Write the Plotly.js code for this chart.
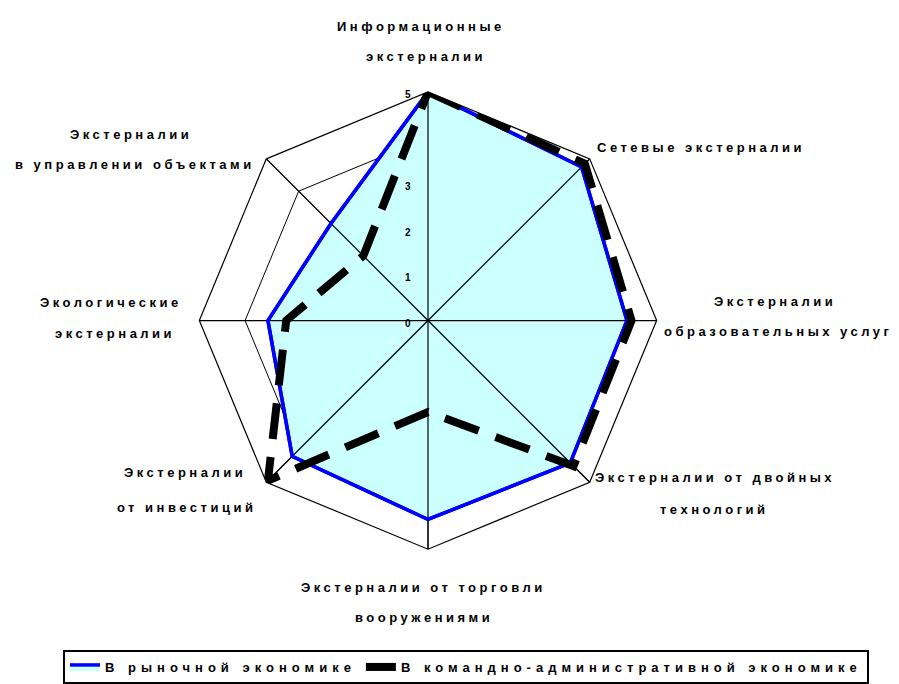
<!DOCTYPE html>
<html><head><meta charset="utf-8">
<script src="https://cdn.plot.ly/plotly-3.0.1.min.js"></script>
<style>html,body{margin:0;padding:0;background:#fff}</style>
</head><body><div id="chart" style="width:899px;height:684px"></div>
<script>
// ---- data ----
const categories = [
  "Информационные<br>экстерналии",
  "Сетевые экстерналии",
  "Экстерналии<br>образовательных услуг",
  "Экстерналии от двойных<br>технологий",
  "Экстерналии от торговли<br>вооружениями",
  "Экстерналии<br>от инвестиций",
  "Экологические<br>экстерналии",
  "Экстерналии<br>в управлении объектами"
];
const marketValues  = [5, 4.75, 4.35, 4.4, 4.35, 4.2, 3.5, 3.0];
const commandValues = [5, 4.85, 4.45, 4.5, 2.0, 4.95, 3.1, 2.0];
const seriesNames = ["В рыночной экономике", "В командно-административной экономике"];
const radialTicks = [0, 1, 2, 3, 4, 5];

// ---- layout helpers ----
const W = 899, H = 684;
const RMAX = radialTicks[radialTicks.length - 1];
const close = a => a.concat([a[0]]);
const theta = close(categories);
const sp = (t, ls) => '<span style="letter-spacing:' + ls + 'px">' + t + '</span>';
const R = 229, CX = 428, CY = 321;

// label placement (pixel centres of each text line)
const labelPos = [
  [[421, 27], [426, 57]],
  [[701, 148]],
  [[775, 302], [778, 332]],
  [[715, 478], [714, 510]],
  [[423, 588], [424, 618]],
  [[185, 473], [186, 508]],
  [[111, 303], [115, 334]],
  [[131, 135], [135, 165]]
];

const annotations = [];
categories.forEach((c, i) => {
  const lines = c.split("<br>");
  lines.forEach((ln, j) => {
    const p = labelPos[i][j];
    annotations.push({
      text: sp(ln, 3.5), xref: "paper", yref: "paper",
      x: p[0] / W, y: 1 - p[1] / H, xanchor: "center", yanchor: "middle",
      showarrow: false,
      font: {family: "Liberation Sans, Arial, sans-serif", size: 13, color: "#000", weight: "bold"}
    });
  });
});
// upright radial tick labels beside the vertical axis
radialTicks.forEach(v => {
  annotations.push({
    text: String(v), xref: "paper", yref: "paper",
    x: (CX - 20) / W, y: 1 - (CY + 3 - v * R / RMAX) / H,
    xanchor: "center", yanchor: "middle", showarrow: false,
    font: {family: "Liberation Sans, Arial, sans-serif", size: 10, color: "#000", weight: "bold"}
  });
});

// spokes over the fill
const spokeR = [], spokeT = [];
categories.forEach(c => { spokeR.push(0, RMAX, null); spokeT.push(c, c, null); });

const traces = [
  {
    type: "scatterpolar", r: close(marketValues), theta: theta, name: sp(seriesNames[0], 5),
    mode: "lines", fill: "toself", fillcolor: "#ccffff",
    line: {color: "#0000ff", width: 3.5}, showlegend: true, hoverinfo: "skip"
  },
  {
    type: "scatterpolar", r: spokeR, theta: spokeT, mode: "lines",
    line: {color: "#000", width: 1.2}, showlegend: false, hoverinfo: "skip", connectgaps: false
  },
  {
    type: "scatterpolar", r: close(marketValues), theta: theta, mode: "lines",
    line: {color: "#0000ff", width: 3.5}, showlegend: false, hoverinfo: "skip"
  },
  {
    type: "scatterpolar", r: close(commandValues), theta: theta, name: sp(seriesNames[1], 5),
    mode: "lines", line: {color: "#000", width: 8, dash: "36px,18px"},
    showlegend: true, hoverinfo: "skip"
  }
];

const layout = {
  width: W, height: H,
  margin: {l: 0, r: 0, t: 0, b: 0},
  paper_bgcolor: "#fff", plot_bgcolor: "#fff",
  font: {family: "Liberation Sans, Arial, sans-serif", color: "#000"},
  polar: {
    domain: {x: [(CX - R) / W, (CX + R) / W], y: [1 - (CY + R) / H, 1 - (CY - R) / H]},
    bgcolor: "#fff",
    gridshape: "linear",
    radialaxis: {
      range: [0, RMAX], tickvals: radialTicks, showticklabels: false,
      angle: 90, showline: false, ticks: "",
      gridcolor: "#000", gridwidth: 1, layer: "above traces"
    },
    angularaxis: {
      direction: "clockwise", rotation: 90, type: "category",
      categoryarray: categories,
      showticklabels: false, ticks: "",
      showline: true, linecolor: "#000", linewidth: 1.2,
      gridcolor: "#000", gridwidth: 1
    }
  },
  showlegend: true,
  legend: {
    orientation: "h", x: 63 / W, y: 1 - 651 / H, xanchor: "left", yanchor: "top",
    bordercolor: "#000", borderwidth: 2, bgcolor: "#fff",
    font: {size: 13, color: "#000", weight: "bold"},
    itemwidth: 30, traceorder: "normal"
  },
  annotations: annotations
};

Plotly.newPlot("chart", traces, layout, {displayModeBar: false, staticPlot: true});
</script>
</body></html>
